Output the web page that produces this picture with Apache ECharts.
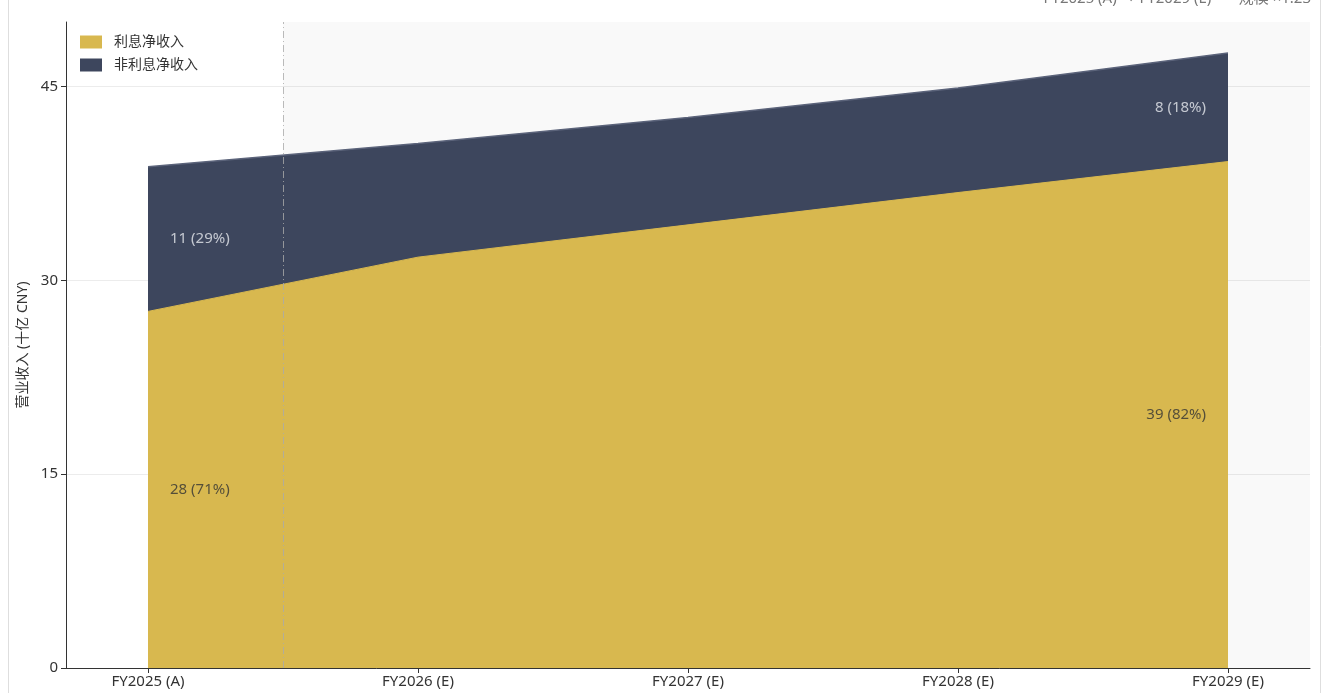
<!DOCTYPE html>
<html>
<head>
<meta charset="utf-8">
<script src="https://cdn.jsdelivr.net/npm/echarts@6/dist/echarts.min.js"></script>
<style>
  html, body { margin: 0; padding: 0; background: #fff; }
  #chart { width: 1324px; height: 693px; }
</style>
</head>
<body>
<div id="chart"></div>
<script>
(function() {
  "use strict";

  /* ---- Data ---- */
  const years = ["FY2025 (A)", "FY2026 (E)", "FY2027 (E)", "FY2028 (E)", "FY2029 (E)"];
  const interestIncome = [27.6, 31.8, 34.3, 36.8, 39.2];
  const nonInterestIncome = [11.2, 8.8, 8.3, 8.1, 8.4];
  const yTicks = [0, 15, 30, 45];
  const forecastStart = 0.5; // boundary between actual and estimate
  const headerText = "FY2025 (A) → FY2029 (E)   ·   规模 ×1.23";

  const GOLD = "#d8b84f";
  const NAVY = "#3d465d";
  const FONT = "'Noto Sans', 'Noto Sans CJK SC', sans-serif";
  const X_MIN = -0.3037, X_MAX = 4.3037;

  const total = i => interestIncome[i] + nonInterestIncome[i];
  const totals = years.map((_, i) => total(i));
  const xy = arr => arr.map((v, i) => [i, v]);
  const pct = (v, i) => Math.round(v / total(i) * 100);
  const lbl = (v, i) => Math.round(v) + " (" + pct(v, i) + "%)";

  // segment labels: first and last year, middle of each band
  const labelPts = [];
  [0, years.length - 1].forEach(i => {
    const side = i === 0 ? "right" : "left";
    labelPts.push({ value: [i, interestIncome[i] / 2], text: lbl(interestIncome[i], i), dark: true, side });
    labelPts.push({ value: [i, interestIncome[i] + nonInterestIncome[i] / 2], text: lbl(nonInterestIncome[i], i), dark: false, side });
  });

  const chart = echarts.init(document.getElementById("chart"), null, { renderer: "canvas" });

  chart.setOption({
    backgroundColor: "#fff",
    animation: false,
    textStyle: { fontFamily: FONT },
    grid: { left: 66, right: 14, top: 22, bottom: 25 },
    legend: {
      orient: "vertical", left: 75, top: 30,
      itemWidth: 22, itemHeight: 13, itemGap: 9,
      textStyle: { fontSize: 14, color: "#333", fontFamily: FONT, padding: [0, 0, 0, 7] },
      data: [
        { name: "利息净收入", icon: "rect", itemStyle: { color: GOLD } },
        { name: "非利息净收入", icon: "rect", itemStyle: { color: NAVY } }
      ]
    },
    graphic: [
      { type: "rect", silent: true, z: -10, shape: { x: 8.5, y: -10, width: 1312, height: 720 }, style: { fill: "none", stroke: "#dedede", lineWidth: 1 } },
      { type: "text", silent: true, right: 13, top: -9, style: { text: headerText, fontSize: 15, fill: "#777", fontFamily: FONT } }
    ],
    xAxis: {
      type: "value", min: X_MIN, max: X_MAX,
      axisLine: { onZero: false, lineStyle: { color: "#333", width: 1 } },
      axisTick: { show: true, length: 5, customValues: years.map((_, i) => i), lineStyle: { color: "#333" } },
      axisLabel: { customValues: years.map((_, i) => i), formatter: v => years[Math.round(v)] || "", color: "#333", fontSize: 15, margin: 6 },
      splitLine: { show: false }
    },
    yAxis: {
      type: "value", min: 0, max: 50,
      name: "营业收入 (十亿 CNY)", nameLocation: "middle", nameGap: 30,
      nameTextStyle: { fontSize: 14, color: "#333", fontFamily: FONT },
      axisLine: { show: true, onZero: false, lineStyle: { color: "#333", width: 1 } },
      axisTick: { show: true, length: 5, customValues: yTicks, lineStyle: { color: "#333" } },
      axisLabel: { customValues: yTicks, color: "#333", fontSize: 15, margin: 8 },
      splitLine: { show: true, lineStyle: { color: "#ececec", width: 1 } }
    },
    series: [
      {
        name: "bg", type: "line", data: [], z: 0, silent: true,
        markArea: {
          silent: true,
          itemStyle: { color: "rgba(0,0,0,0.025)" },
          data: [[{ xAxis: forecastStart, yAxis: 0 }, { xAxis: X_MAX, yAxis: 50 }]]
        }
      },
      {
        // total (interest + non-interest) drawn first; gold band covers the lower part
        name: "非利息净收入", type: "line", data: xy(totals),
        z: 2, symbol: "none",
        lineStyle: { width: 1.5, color: "#5b637a" },
        itemStyle: { color: NAVY },
        areaStyle: { color: NAVY, opacity: 1 }
      },
      {
        name: "利息净收入", type: "line", data: xy(interestIncome),
        z: 3, symbol: "none",
        lineStyle: { width: 1, color: GOLD },
        itemStyle: { color: GOLD },
        areaStyle: { color: GOLD, opacity: 1 }
      },
      {
        name: "divider", type: "line", data: [], z: 5, silent: true,
        markLine: {
          silent: true, symbol: "none",
          label: { show: false },
          lineStyle: { color: "#aaaaaa", width: 1, opacity: 0.8, type: [7, 3, 1, 3] },
          data: [{ xAxis: forecastStart }]
        }
      },
      {
        name: "labels", type: "scatter", z: 6, silent: true, symbolSize: 0,
        data: labelPts.map(p => ({
          value: p.value,
          label: {
            show: true, position: p.side, distance: 22,
            formatter: p.text, fontSize: 15,
            color: p.dark ? "#333" : "#e6e8ee", fontFamily: FONT
          }
        }))
      }
    ]
  });
})();
</script>
</body>
</html>
